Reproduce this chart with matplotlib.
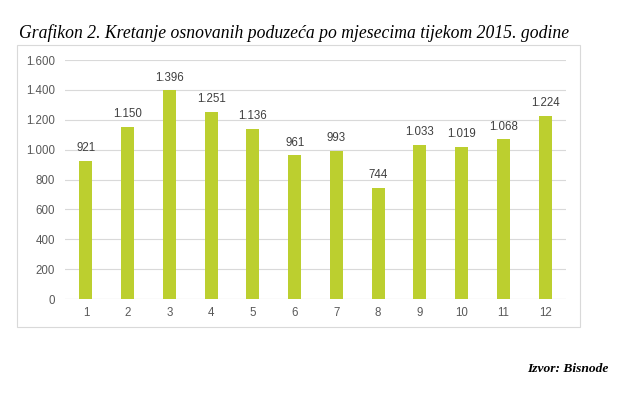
import matplotlib.pyplot as plt
from matplotlib.patches import Rectangle

months = ['1', '2', '3', '4', '5', '6', '7', '8', '9', '10', '11', '12']
firms = [921, 1150, 1396, 1251, 1136, 961, 993, 744, 1033, 1019, 1068, 1224]
yticks = [0, 200, 400, 600, 800, 1000, 1200, 1400, 1600]


def dots(v):
    return f'{v:,}'.replace(',', '.')


fig = plt.figure(figsize=(6.25, 3.95), dpi=100)

# okvir grafikona
fig.patches.append(Rectangle((0.0272, 0.1722), 0.9008, 0.7139, transform=fig.transFigure,
                             fill=False, edgecolor='#d9d9d9', linewidth=0.8))

ax = fig.add_axes([0.104, 0.243, 0.8016, 0.6051])
x = range(len(months))
ax.bar(x, firms, width=0.31, color='#bccf2f', zorder=3)
for i, v in enumerate(firms):
    ax.annotate(dots(v), (i, v), xytext=(0, 5), textcoords='offset points',
                ha='center', va='bottom', fontsize=8.3, color='#404040',
                family='Liberation Sans')

ax.set_xlim(-0.5, 11.5)
ax.set_ylim(0, 1600)
ax.set_yticks(yticks)
ax.set_yticklabels([dots(t) for t in yticks])
ax.set_xticks(list(x))
ax.set_xticklabels(months)
for lab in ax.get_xticklabels() + ax.get_yticklabels():
    lab.set_family('Liberation Sans')
ax.tick_params(length=0, labelsize=8.3, colors='#595959')
ax.tick_params(axis='y', pad=7)
ax.tick_params(axis='x', pad=6)
ax.grid(axis='y', color='#d9d9d9', linewidth=0.8, zorder=0)
for s in ax.spines.values():
    s.set_visible(False)
ax.axhline(0, color='#d9d9d9', linewidth=0.8, zorder=2)

fig.text(0.030, 0.904, 'Grafikon 2. Kretanje osnovanih poduzeća po mjesecima tijekom 2015. godine',
         fontsize=12.7, family='Liberation Serif', style='italic', va='baseline')
fig.text(0.973, 0.066, 'Izvor: Bisnode', fontsize=9.7, family='Liberation Serif',
         style='italic', weight='bold', ha='right', va='center')

fig.savefig('out.png', dpi=100)
